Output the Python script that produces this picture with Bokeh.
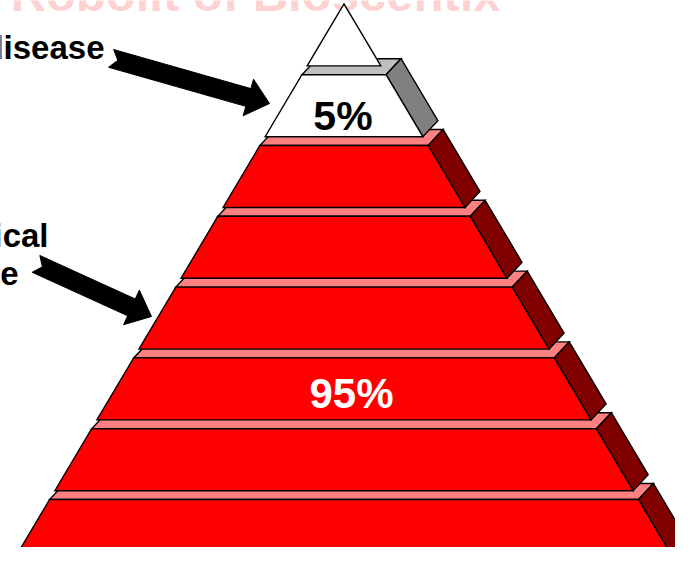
import numpy as np
from bokeh.plotting import figure
from bokeh.models import Range1d
from bokeh.core.properties import value
from bokeh.embed import file_html
from bokeh.resources import INLINE

# ---------------- data ----------------
title_text = "Robolit of Bioscentix"
group_names = ["Clinical disease", "Sub-clinical disease"]
group_share = [5, 95]
share_labels = ["5%", "95%"]
tiers_per_group = [1, 6]
label_tier_in_group = [0, 3]
front_colors = ["#FFFFFF", "#FF0000"]
top_colors = ["#C0C0C0", "#FF8080"]
side_colors = ["#808080", "#800000"]
label_colors = ["#000000", "#FFFFFF"]
callout_lines = [["Clinical disease"], ["Sub-clinical", "disease"]]

# ---------------- layout (reference pixel space, y downward) ----------------
W, H = 675, 547
X0, Y0 = 0, 0
cx = 343.5
apex_y = 3.4
period = 70.8
tier_h = 62.0
slope = 0.594
ddx, ddy = 15.0, 16.0
FONT = value("Liberation Sans")

p = figure(width=W, height=H, x_range=Range1d(X0, X0 + W), y_range=Range1d(Y0 + H, Y0),
           output_backend="svg", toolbar_location=None, min_border=0,
           x_axis_location=None, y_axis_location=None, outline_line_color=None,
           background_fill_color="white", border_fill_color="white")
p.grid.grid_line_color = None

def hw(y):
    return slope * (y - apex_y)

# faint watermark title (only its lower part is visible, as in the source)
p.text(x=[255], y=[-7], text=[title_text], text_font=FONT,
       text_font_style="bold", text_font_size="49px", text_align="center",
       text_baseline="middle", text_color="#FFD2D2")

# build tiers: index 1 .. n (top to bottom), group membership
tier_group = []
for g, n in enumerate(tiers_per_group):
    tier_group += [g] * n
n_tiers = len(tier_group)

xs, ys, fills = [], [], []
for k in range(n_tiers, 0, -1):
    g = tier_group[k - 1]
    t = apex_y + k * period
    b = t + tier_h
    tl, tr = cx - hw(t), cx + hw(t)
    bl, br = cx - hw(b), cx + hw(b)
    # top face
    xs.append([tl, tr, tr + ddx, tl + ddx]); ys.append([t, t, t - ddy, t - ddy]); fills.append(top_colors[g])
    # right side face
    xs.append([tr, br, br + ddx, tr + ddx]); ys.append([t, b, b - ddy, t - ddy]); fills.append(side_colors[g])
    # front face
    xs.append([tl, tr, br, bl]); ys.append([t, t, b, b]); fills.append(front_colors[g])

# apex triangle
tb = apex_y + tier_h
xs.append([cx, cx + hw(tb), cx - hw(tb)]); ys.append([apex_y, tb, tb]); fills.append("#FFFFFF")

p.patches(xs=xs, ys=ys, fill_color=fills, line_color="black", line_width=1.4, line_join="miter")

# share labels
label_dx = [-1, 7.5]
label_dy = [40.8, 35.1]
font_sizes = ["41px", "42px"]
start = 1
for g, n in enumerate(tiers_per_group):
    k = start + label_tier_in_group[g]
    t = apex_y + k * period
    p.text(x=[cx + label_dx[g]], y=[t + label_dy[g]], text=[share_labels[g]],
           text_font=FONT, text_font_style="bold",
           text_font_size=font_sizes[g], text_align="center", text_baseline="middle",
           text_color=label_colors[g])
    start += n

# callout arrows
def arrow_poly(tail, tip, shaft_w=18.5, head_w=38.0, head_l=22.0, notch=7.0):
    t = np.array(tail, float); e = np.array(tip, float)
    u = (e - t) / np.linalg.norm(e - t)
    n = np.array([-u[1], u[0]])
    hb = e - u * head_l
    pts = [t + n * shaft_w / 2, hb + n * shaft_w / 2, hb + n * head_w / 2, e,
           hb - n * head_w / 2, hb - n * shaft_w / 2, t - n * shaft_w / 2, t + u * notch]
    return [q[0] for q in pts], [q[1] for q in pts]

arrow_tails = [(110.6, 57.9), (35.5, 263.4)]
arrow_tips = [(269.0, 103.0), (151.0, 316.0)]
axs, ays = [], []
for tl_, tp_ in zip(arrow_tails, arrow_tips):
    a, b = arrow_poly(tl_, tp_)
    axs.append(a); ays.append(b)
p.patches(xs=axs, ys=ays, fill_color="black", line_color="black", line_width=1)

# callout texts (right-aligned, partly outside the frame as in the source)
text_right = [[104], [48, 18]]
text_mid = [[46.5], [235.2, 273.2]]
for g, lines in enumerate(callout_lines):
    for i, ln in enumerate(lines):
        p.text(x=[text_right[g][i]], y=[text_mid[g][i]], text=[ln],
               text_font=FONT, text_font_style="bold",
               text_font_size="33px", text_align="right", text_baseline="middle",
               text_color="black")

open("out.html", "w").write(file_html(p, INLINE))
